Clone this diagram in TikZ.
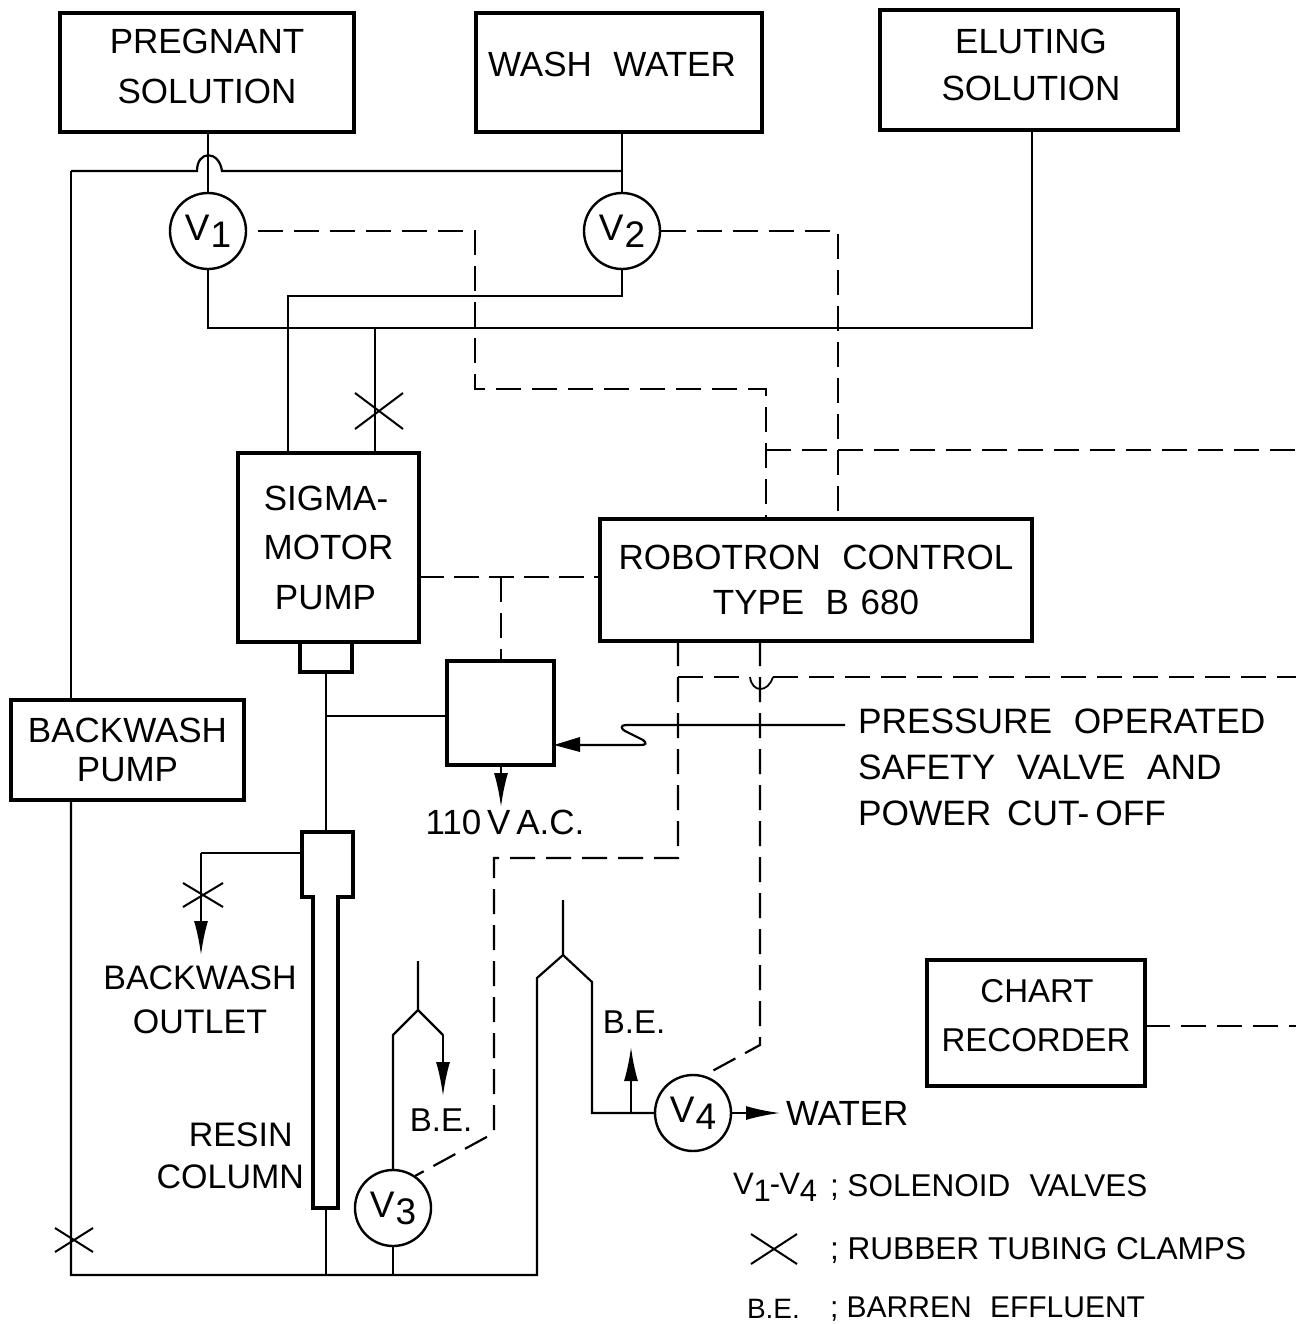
\documentclass[tikz,border=0pt]{standalone}
\usepackage{fontspec}
\setmainfont{Liberation Sans}
\usetikzlibrary{arrows.meta,calc}
\newcommand{\vsub}[1]{V\kern1pt\raisebox{-7pt}{#1}}
\newcommand{\lsub}[1]{V\raisebox{-7pt}{#1}}
\newcommand{\raiseln}[1]{\\[\dimexpr 2\dimexpr#1\relax-\baselineskip\relax]\mbox{}}
\begin{document}
\begin{tikzpicture}[x=1pt,y=-1pt,
  lbl/.style={inner sep=0pt,outer sep=0pt,align=center,font=\fontsize{35}{49.5}\selectfont},
  lbll/.style={lbl,anchor=west,align=left},
  boxn/.style={lbl,draw=black,line width=3.2pt,minimum width=#1,shape=rectangle},
  valve/.style={draw=black,fill=white,line width=2.4pt,circle,minimum size=76pt,inner sep=0pt,outer sep=0pt,font=\fontsize{37}{40}\selectfont},
  pipe/.style={draw=black,line width=2.2pt,line join=miter},
  ctrl/.style={draw=black,line width=2.2pt,dash pattern=on 25pt off 11pt},
  flow/.style={pipe,-{Latex[length=34pt,width=14pt]}},
  clampx/.style={draw=black,line width=2pt}]
\useasboundingbox (0,0) rectangle (1296,1324);

% boxes
\node[boxn=294pt,minimum height=119pt] (preg) at (207,72.5) {PREGNANT\\SOLUTION\raiseln{6pt}};
\node[boxn=286pt,minimum height=119pt] (wash) at (619,72.5) {WASH\,\, WATER\hspace*{14pt}\raiseln{8pt}};
\node[boxn=298pt,minimum height=120pt] (elut) at (1029,70) {\hspace*{4pt}ELUTING\\[-3pt]\hspace*{4pt}SOLUTION\raiseln{5pt}};
\node[boxn=181pt,minimum height=189pt] (sigma) at (328.5,547.5) {SIGMA-\hspace*{5pt}\\MOTOR\hspace*{5pt}\\PUMP\hspace*{6pt}};
\node[boxn=52pt,minimum height=30pt] (coupl) at (326,657) {};
\node[boxn=432pt,minimum height=122pt] (robo) at (816,580) {ROBOTRON\,\, CONTROL\\[-5pt]TYPE\,\, B\,\,680};
\node[boxn=107pt,minimum height=104pt] (cutoff) at (500.5,713) {};
\node[boxn=233pt,minimum height=100pt] (bpump) at (127.5,750) {BACKWASH\\[-10pt]PUMP};
\node[boxn=218pt,minimum height=126pt,font=\fontsize{33}{49.5}\selectfont] (chart) at (1036,1023) {\hspace*{2pt}CHART\\RECORDER\raiseln{7.5pt}};

% valves
\node[valve] (v1) at (208,231) {\vsub{1}};
\node[valve] (v2) at (622,231) {\vsub{2}};
\node[valve] (v3) at (393,1208) {\vsub{3}};
\node[valve] (v4) at (693,1113) {\vsub{4}};

% resin column
\coordinate (coltop) at (326,832);
\coordinate (colside) at (302,853);
\coordinate (colbot) at (326,1208);
\draw[line width=3.2pt,line join=miter] (302,832) -- (353,832) -- (353,897) -- (338,897) -- (338,1208) -- (313,1208) -- (313,897) -- (302,897) -- cycle;

% free-end coordinates
\coordinate (bwtop) at (71,171);
\coordinate (humpL) at (197,171);
\coordinate (humpR) at (222,171);
\coordinate (bwbot) at (71,1275);
\coordinate (col3) at (326,1275);
\coordinate (v3foot) at (393,1275);
\coordinate (jr) at (537,1275);
\coordinate (r1) at (537,978);
\coordinate (r2) at (563,955);
\coordinate (r3) at (563,900);
\coordinate (r4) at (592,982);
\coordinate (r5) at (592,1113);
\coordinate (s1) at (393,1035);
\coordinate (s2) at (418,1010);
\coordinate (s3) at (418,961);
\coordinate (s4) at (443,1035);
\coordinate (s5) at (443,1096);
\coordinate (upa) at (631,1113);
\coordinate (upb) at (631,1047);
\coordinate (watr) at (780,1113);
\coordinate (e1) at (1032,328);
\coordinate (e2) at (375,328);
\coordinate (m1) at (208,328);
\coordinate (m2) at (622,296);
\coordinate (m3) at (288,296);
\coordinate (sq) at (326,716);
\coordinate (o1) at (201,853);
\coordinate (o2) at (201,955);
\coordinate (ac) at (501,807);

% pipes
\draw[pipe] (v1.north) -- (v1.north |- preg.south);
\draw[pipe] (v2.north) -- (v2.north |- wash.south);
\draw[pipe] (bwtop) -- (humpL) .. controls (197,150) and (219,150) .. (humpR) -- (v2.north |- bwtop);
\draw[pipe] (bwtop) -- (bwtop |- bpump.north);
\draw[pipe] (bwtop |- bpump.south) -- (bwbot) -- (jr) -- (r1) -- (r2) -- (r3);
\draw[pipe] (r2) -- (r4) -- (r5) -- (v4.west);
\draw[pipe] (colbot) -- (col3);
\draw[pipe] (v3.south) -- (v3foot);
\draw[pipe] (v3.north) -- (s1) -- (s2) -- (s3);
\draw[pipe] (s2) -- (s4);
\draw[flow] (s4) -- (s5);
\draw[flow] (upa) -- (upb);
\draw[flow] (v4.east) -- (watr);
\draw[pipe] (v1.south) -- (m1) -- (e1) -- (e1 |- elut.south);
\draw[pipe] (sigma.north -| e2) -- (e2);
\draw[pipe] (v2.south) -- (m2) -- (m3) -- (m3 |- sigma.north);
\draw[pipe] (coupl.south) -- (coltop);
\draw[pipe] (sq) -- (sq -| cutoff.west);
\draw[pipe] (colside) -- (o1);
\draw[flow] (o1) -- (o2);
\draw[flow] (cutoff.south -| ac) -- (ac);

% pressure line
\coordinate (pr) at (845,725);
\draw[pipe] (pr) -- (626,725) .. controls (620,725) and (621,729) .. (625,731) -- (643,740) .. controls (647,743) and (646,745) .. (641,745) -- (575,745);
\fill[black] (554,745) -- (580,737) -- (580,752) -- cycle;
\coordinate (prtip) at (554,745);

% control lines (dashed)
\coordinate (d1) at (475,231);
\coordinate (d2) at (475,389);
\coordinate (d3) at (766,389);
\coordinate (d4) at (838,231);
\coordinate (d5) at (1296,450);
\coordinate (d6) at (501,577);
\coordinate (d7) at (678,677);
\coordinate (d8) at (678,858);
\coordinate (d9) at (494,858);
\coordinate (d10) at (494,1133);
\coordinate (d11) at (760,1045);
\coordinate (d12) at (1296,677);
\coordinate (hl) at (750,677);
\coordinate (hr) at (773,677);
\draw[ctrl] (258,231) -- (d1) -- (d2) -- (d3) -- (d3 |- robo.north);
\draw[ctrl] (661,231) -- (d4) -- (d4 |- robo.north);
\draw[ctrl] (d3 |- d5) -- (d5);
\draw[ctrl,dash pattern=on 25pt off 10pt] (sigma.east |- d6) -- (robo.west |- d6);
\draw[ctrl] (d6) -- (d6 |- cutoff.north);
\draw[ctrl] (d7 |- robo.south) -- (d8) -- (d9) -- (d10) -- (415,1176);
\draw[ctrl] (d7) -- (hl);
\draw[pipe,line width=1.8pt] (hl) .. controls (752,693) and (768,693) .. (hr);
\draw[ctrl] (hr) -- (d12);
\draw[ctrl] (d11 |- robo.south) -- (d11) -- (705,1075);
\draw[ctrl] (chart.east |- 0,1026) -- (1296,1026);

% clamps
\newcommand{\clampat}[4]{\draw[clampx] ($(#1,#2)+(-#3,-#4)$) -- ($(#1,#2)+(#3,#4)$);\draw[clampx] ($(#1,#2)+(-#3,#4)$) -- ($(#1,#2)+(#3,-#4)$);}
\clampat{379}{411}{24}{18}
\clampat{203}{895}{20}{12}
\clampat{74}{1240}{19}{12}
\clampat{774}{1249}{23}{15}

% labels
\node[lbl] (t110) at (505,822) {110\,V\,A.C.};
\node[lbl,font=\fontsize{34}{44}\selectfont] (toutlet) at (200,999.5) {BACKWASH\\OUTLET};
\node[lbl,font=\fontsize{34}{42}\selectfont,align=right,anchor=east] (tresin) at (304,1156) {RESIN\,\,\\COLUMN};
\node[lbl,font=\fontsize{33}{40}\selectfont] (tbe1) at (441,1120) {B.E.};
\node[lbl,font=\fontsize{33}{40}\selectfont] (tbe2) at (634,1022) {B.E.};
\node[lbll] (twater) at (786,1113) {WATER};
\node[lbll,font=\fontsize{35.3}{46}\selectfont] (tpress) at (858,767) {PRESSURE\,\, OPERATED\\SAFETY\,\, VALVE\,\, AND\\POWER\, CUT-\,OFF};
\node[lbll,font=\fontsize{31}{40}\selectfont] (tl1) at (733,1187) {\lsub{1}\kern-1pt-\kern-1pt\lsub{4}};
\node[lbll,font=\fontsize{31.5}{40}\selectfont] (tl1b) at (830,1188) {; SOLENOID\,\, VALVES};
\node[lbll,font=\fontsize{31.6}{40}\selectfont] (tl2) at (830,1250) {; RUBBER TUBING CLAMPS};
\node[lbll,font=\fontsize{28}{40}\selectfont] (tl3a) at (747,1309) {B.E.};
\node[lbll,font=\fontsize{30}{40}\selectfont] (tl3b) at (830,1309) {; BARREN\,\, EFFLUENT};
\end{tikzpicture}
\end{document}
